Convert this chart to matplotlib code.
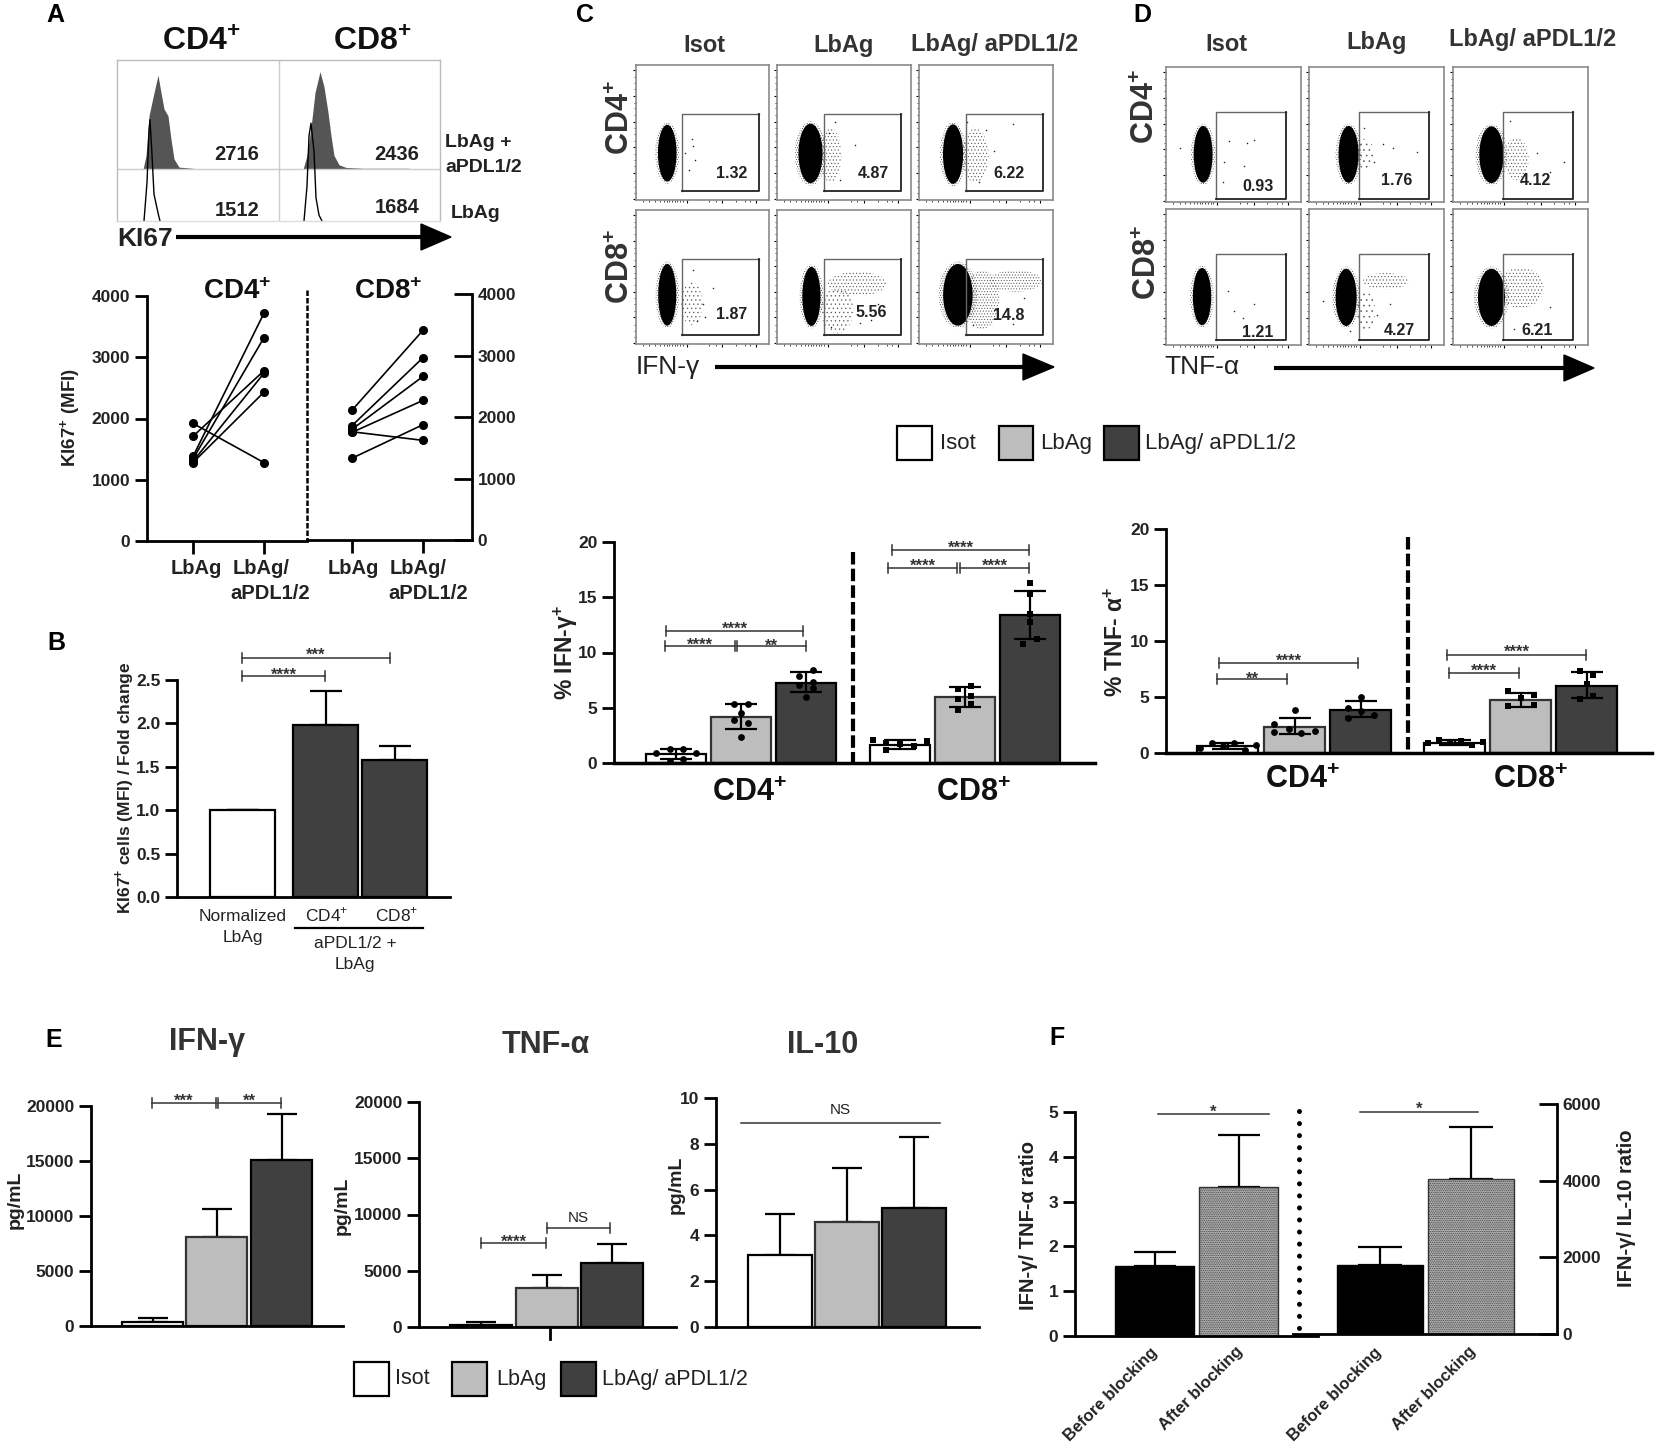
import matplotlib
matplotlib.use('Agg')
import matplotlib.pyplot as plt
from matplotlib.patches import Ellipse, Polygon, Rectangle

plt.rcParams['font.family'] = ['Liberation Sans', 'DejaVu Sans']
plt.rcParams['mathtext.fontset'] = 'custom'
plt.rcParams['mathtext.rm'] = 'Liberation Sans'
plt.rcParams['mathtext.bf'] = 'Liberation Sans:bold'
plt.rcParams['hatch.linewidth'] = 0.4

W, H = 1657, 1450
WHITE, GRAY, DARK = 'white', '#bdbdbd', '#404040'
TXT = '#222222'
PLUS = r'$^{\mathbf{+}}$'

# --- panel A histograms (x: channel, height above the lane baseline)
hist_fill_cd4_x = [26, 29, 32, 36, 41, 44, 47, 51, 54, 57, 62, 79, 129]
hist_fill_cd4_y = [0, 12, 46, 62, 81, 66, 52, 46, 26, 9, 2, 0.7, 0.7]
hist_fill_cd8_x = [186, 190, 194, 198, 203, 207, 211, 214, 217, 222, 229, 246, 292]
hist_fill_cd8_y = [0, 12, 36, 66, 84, 71, 49, 29, 12, 4, 1.7, 1, 1]
hist_line_cd4_x = [27, 30, 32, 33, 35, 37, 41, 43]
hist_line_cd4_y = [0, 33, 77, 87, 57, 23, 7, 0]
hist_line_cd8_x = [187, 190, 192, 194, 197, 199, 202, 205]
hist_line_cd8_y = [0, 30, 73, 84, 60, 20, 5, 0]

# --- panel A paired values
pair_cd4_before = [1920, 1710, 1380, 1340, 1300, 1280]
pair_cd4_after = [1280, 2780, 3720, 3320, 2740, 2430]
pair_cd8_before = [2110, 1860, 1800, 1750, 1760, 1330]
pair_cd8_after = [3410, 2965, 2660, 2270, 1620, 1875]

# --- panel B
fold_vals = [1.0, 1.98, 1.58]
fold_tops = [1.0, 2.37, 1.74]

# --- panel C bars
ifn_vals = [0.8, 4.15, 7.25, 1.65, 5.95, 13.35]
ifn_tops = [1.25, 5.3, 8.2, 2.05, 6.85, 15.6]
ifn_bots = [0.4, 3.05, 6.4, 1.3, 5.1, 11.2]
ifn_off = [[-20, -6, 7, 20, -6, 7], [-6.5, 7, 0, -6.5, 7, 0], [7, -6.5, 7, -6.5, 7, 0],
           [-27, -13.5, 0, 14, 27.5, -13.5], [6.5, -6.5, 6.5, -6.5, 6.5, -6.5], [0, 0, 0, 0, 6.5, -7]]
ifn_pts = [[0.9, 1.25, 1.25, 0.9, 0.2, 0.4], [5.3, 5.3, 4.55, 3.9, 3.65, 2.35],
           [8.45, 7.9, 7.3, 7.05, 6.75, 5.95], [2.05, 1.85, 1.75, 1.55, 1.95, 1.2],
           [7, 6.7, 6.1, 5.8, 5.3, 4.8], [16.3, 15.3, 13.5, 12.8, 11.2, 10.8]]

# --- panel D bars
tnf_vals = [0.6, 2.35, 3.8, 0.9, 4.7, 6.0]
tnf_tops = [0.9, 3.15, 4.6, 1.15, 5.4, 7.25]
tnf_bots = [0.4, 1.7, 3.2, 0.75, 4.15, 4.95]
tnf_off = [[-28, -16, -5, 6, 17, 28], [0, -21, -21, -6, 6, 20], [0, -13, 0, -13, 13],
           [-27, -16, -5, 6, 17, 28], [-13, 0, 13, -13, 13], [-6.5, 6.5, 0, 6.5, -6.5]]
tnf_pts = [[0.45, 0.85, 0.65, 0.85, 0.3, 0.75], [3.8, 2.6, 1.9, 2.15, 1.8, 2.0], [5, 4.0, 3.75, 3.15, 3.4],
           [0.85, 1.2, 0.95, 1.1, 0.75, 0.95], [5.5, 4.9, 5.2, 4.2, 4.3], [7.3, 7, 6.2, 5.1, 4.85]]

# --- panel E
e_ifn_vals = [400, 8100, 15100]
e_ifn_tops = [700, 10600, 19300]
e_tnf_vals = [200, 3500, 5650]
e_tnf_tops = [450, 4600, 7350]
e_il10_vals = [3.15, 4.6, 5.2]
e_il10_tops = [4.93, 6.93, 8.3]

# --- panel F
f_tnf_vals = [1.57, 3.33]
f_tnf_tops = [1.88, 4.48]
f_il10_vals = [1800, 4050]
f_il10_tops = [2280, 5390]
f_labels = ['Before blocking', 'After blocking']

# --- flow plots: gated percentages, cloud (cx, cy, rx, ry), loose clouds and single events
pct_c = [['1.32', '4.87', '6.22'], ['1.87', '5.56', '14.8']]
pct_d = [['0.93', '1.76', '4.12'], ['1.21', '4.27', '6.21']]
cloud_c = [[(.235, .347, .07, .21), (.25, .345, .09, .22), (.254, .34, .075, .22)],
           [(.235, .367, .068, .23), (.257, .355, .068, .22), (.29, .367, .11, .23)]]
cloud_d = [[(.275, .353, .07, .21), (.293, .353, .074, .21), (.285, .35, .09, .21)],
           [(.267, .356, .068, .21), (.275, .35, .078, .21), (.285, .35, .1, .21)]]
loose_c = [[[], [(.4, .33, .08, .2, '.....')], [(.42, .33, .1, .2, '.....')]],
           [[(.42, .3, .08, .16, '....')], [(.6, .45, .22, .09, '.....'), (.45, .25, .12, .17, '....')],
            [(.47, .33, .13, .22, '......'), (.72, .47, .2, .08, '......')]]]
loose_d = [[[], [(.42, .35, .06, .12, '...')], [(.47, .32, .09, .16, '.....')]],
           [[], [(.57, .47, .17, .06, '.....'), (.42, .25, .07, .14, '...')], [(.5, .42, .17, .15, '.....')]]]
events_c = [[[(.42, .45), (.43, .4), (.44, .3), (.4, .22), (.37, .35)],
             [(.43, .58), (.58, .41), (.47, .15), (.39, .5)],
             [(.36, .58), (.5, .52), (.7, .56), (.56, .36), (.6, .25), (.45, .13)]],
            [[(.43, .55), (.58, .42), (.5, .3), (.52, .2), (.46, .17)],
             [(.4, .13), (.75, .3), (.7, .18), (.62, .16)],
             [(.4, .14), (.78, .34), (.62, .2), (.7, .15)]]]
events_d = [[[(.47, .45), (.6, .44), (.65, .46), (.43, .3), (.58, .27), (.1, .4), (.42, .15)],
             [(.41, .55), (.55, .43), (.62, .4), (.8, .37), (.48, .3), (.25, .25)],
             [(.42, .6), (.62, .36), (.82, .3), (.72, .22), (.5, .15)]],
            [[(.46, .4), (.5, .25), (.57, .2), (.65, .3)],
             [(.1, .32), (.5, .22), (.6, .3), (.3, .1)],
             [(.6, .15), (.72, .28), (.45, .12)]]]

fig = plt.figure(figsize=(W / 100, H / 100), dpi=100, facecolor='white')
ov = fig.add_axes([0, 0, 1, 1], zorder=20)
ov.set_xlim(0, W)
ov.set_ylim(H, 0)
ov.set_axis_off()
ov.patch.set_alpha(0)


def make_ax(x0, x1, top, bot, ymax=None, yticks=None, side='left'):
    """Axes placed by pixel box, x data in pixels."""
    ax = fig.add_axes([x0 / W, 1 - bot / H, (x1 - x0) / W, (bot - top) / H])
    ax.patch.set_alpha(0)
    ax.set_xlim(x0, x1)
    for s in ax.spines.values():
        s.set_linewidth(2)
    ax.spines['top'].set_visible(False)
    ax.spines['left' if side == 'right' else 'right'].set_visible(False)
    if ymax is not None:
        ax.set_ylim(0, ymax)
        ax.set_yticks(yticks)
    ax.set_xticks([])
    if side == 'right':
        ax.yaxis.tick_right()
        ax.tick_params(axis='y', direction='in', width=2, length=13, labelsize=12.5, pad=4, labelcolor=TXT)
    else:
        ax.tick_params(axis='y', direction='out', width=2, length=9, labelsize=12.5, pad=3, labelcolor=TXT)
    for t in ax.get_yticklabels():
        t.set_fontweight('bold')
    return ax


def txt(x, y, s, size, weight='bold', ha='center', va='center', rot=0, color=TXT):
    ov.text(x, y, s, fontsize=size, fontweight=weight, ha=ha, va=va, rotation=rot, color=color,
            rotation_mode='anchor' if rot not in (0, 90) else 'default')


def bracket(x0, x1, y, label, ty, ends=True):
    ov.plot([x0, x1], [y, y], color='#333333', lw=1.1)
    if ends:
        for x in (x0, x1):
            ov.plot([x, x], [y - 5, y + 5], color='#333333', lw=1.1)
    if label == 'NS':
        txt((x0 + x1) / 2, ty, label, 11, weight='normal')
    else:
        txt((x0 + x1) / 2, ty + 10, label, 12, va='baseline', color='#333333')


def arrow(x0, x1, tip, y, half):
    ov.plot([x0, x1], [y, y], color='black', lw=3, solid_capstyle='butt')
    ov.add_patch(Polygon([(x1, y - half), (tip, y), (x1, y + half)], closed=True, color='black'))


def legend(items, y, size, hh=17):
    for (x0, x1, color, tx, label) in items:
        ov.add_patch(Rectangle((x0, y - hh), x1 - x0, 2 * hh, facecolor=color, edgecolor='black', lw=1.6))
        txt(tx, y, label, size, weight='normal', ha='left')


def bars(ax, xs, vals, tops, colors, width, cap, bots=None):
    edges = ['black' if c != GRAY else '#333333' for c in colors]
    ax.bar(xs, vals, width=width, color=colors, edgecolor=edges, linewidth=1.6, zorder=2)
    for x, v, t, i in zip(xs, vals, tops, range(len(xs))):
        low = v if bots is None else bots[i]
        # upper-only bars sit behind the bar so the lower cap does not show
        ax.errorbar(x, v, yerr=[[v - low], [t - v]], color='black', elinewidth=1.6, capsize=cap,
                    capthick=1.6, zorder=1 if bots is None else 3)


def flow_panel(x0, x1, top, bot, gate, cloud, loose, events, pct, pct_xy):
    ax = fig.add_axes([x0 / W, 1 - bot / H, (x1 - x0) / W, (bot - top) / H])
    ax.set_xlim(0, 1)
    ax.set_ylim(0, 1)
    for s in ax.spines.values():
        s.set_color('#8a8a8a')
        s.set_linewidth(1.2)
    ax.set_xticks([.38, .65, .9])
    ax.set_xticks([.05, .1, .14, .18, .21, .23, .25, .27, .29, .31, .33, .35, .55, .6, .75, .82, .86], minor=True)
    ax.set_yticks([.01, .2, .39, .58, .77, .96])
    ax.set_yticks([.05, .1, .14, .25, .3, .34, .44, .49, .53, .63, .68, .72, .82, .87, .91], minor=True)
    ax.tick_params(which='major', length=2.5, width=0.8, labelbottom=False, labelleft=False)
    ax.tick_params(which='minor', length=1.2, width=0.5)
    cx, cy, rx, ry = cloud
    for (lx, ly, lrx, lry, h) in loose:
        ax.add_patch(Ellipse((lx, ly), 2 * lrx, 2 * lry, facecolor='none', edgecolor='#555555', lw=0, hatch=h))
    ax.add_patch(Ellipse((cx, cy), 2.6 * rx, 2.16 * ry, facecolor='none', edgecolor='#444444', lw=0, hatch='.......'))
    ax.add_patch(Ellipse((cx, cy), 2 * rx, 2 * ry, color='black', lw=0))
    ax.scatter([e[0] for e in events], [e[1] for e in events], s=1.2, color='#222222', lw=0)
    gx0, gx1, gy0, gy1 = gate
    ax.plot([gx0, gx0, gx1], [gy0, gy1, gy1], color='#666666', lw=1)
    ax.plot([gx0, gx1, gx1], [gy0, gy0, gy1], color='#222222', lw=1.3)
    ax.text(pct_xy[0], pct_xy[1], pct, fontsize=11.5, fontweight='bold', color=TXT, ha='center', va='center',
            transform=ax.transAxes)


# panel letters
for (x, y, s) in [(55, 15, 'A'), (56, 643, 'B'), (585, 15, 'C'), (1142, 15, 'D'), (54, 1040, 'E'), (1057, 1038, 'F')]:
    txt(x, y, s, 18, color='black')

# ---------- A histograms
ax = fig.add_axes([117 / W, 1 - 221 / H, 323 / W, 161 / H])
ax.set_xlim(0, 323)
ax.set_ylim(0, 138.3)
ax.set_xticks([])
ax.set_yticks([])
for s in ax.spines.values():
    s.set_color('#bbbbbb')
    s.set_linewidth(1)
ax.spines['bottom'].set_color('#dddddd')
lane = 44.3
ax.axvline(162, color='#cccccc', lw=1)
ax.fill_between(hist_fill_cd4_x, lane, [lane + v for v in hist_fill_cd4_y], color='#555555', lw=0)
ax.fill_between(hist_fill_cd8_x, lane, [lane + v for v in hist_fill_cd8_y], color='#555555', lw=0)
ax.axhline(lane, color='#cccccc', lw=1)
ax.plot(hist_line_cd4_x, hist_line_cd4_y, color='black', lw=1)
ax.plot(hist_line_cd8_x, hist_line_cd8_y, color='black', lw=1)
txt(201, 43, 'CD4' + PLUS, 23, color='#111111')
txt(372, 43, 'CD8' + PLUS, 23, color='#111111')
for (x, y, s) in [(237, 154, '2716'), (237, 210, '1512'), (397, 154, '2436'), (397, 207, '1684')]:
    txt(x, y, s, 14.5)
txt(445, 142, 'LbAg +', 14, ha='left')
txt(445, 167, 'aPDL1/2', 14, ha='left')
txt(451, 213, 'LbAg', 14, ha='left')
txt(117, 239, 'KI67', 19, ha='left')
arrow(176, 421, 451, 237, 13)

# ---------- A paired plots
ax = make_ax(147, 307, 296, 541, 4000, [0, 1000, 2000, 3000, 4000])
ax.set_xlim(-0.648, 1.606)
ax2 = make_ax(307, 472, 294, 540, 4000, [0, 1000, 2000, 3000, 4000], side='right')
ax2.set_xlim(-0.634, 1.69)
for a, before, after in [(ax, pair_cd4_before, pair_cd4_after), (ax2, pair_cd8_before, pair_cd8_after)]:
    for b, c in zip(before, after):
        a.plot([0, 1], [b, c], color='black', lw=1.2, marker='o', ms=5.5, clip_on=False)
    a.set_xticks([0, 1])
    a.set_xticklabels(['', ''])
    a.tick_params(axis='x', width=2, length=9)
for (x, y, s) in [(196, 568, 'LbAg'), (261, 568, 'LbAg/'), (270, 593, 'aPDL1/2'),
                  (353, 568, 'LbAg'), (418, 568, 'LbAg/'), (428, 593, 'aPDL1/2')]:
    txt(x, y, s, 14.5)
txt(237, 292, 'CD4' + PLUS, 20, color='#111111')
txt(388, 292, 'CD8' + PLUS, 20, color='#111111')
txt(71, 418, 'KI67' + PLUS + ' (MFI)', 13.5, rot=90)
ov.plot([307, 307], [290, 541], color='black', lw=1.8, ls=(0, (2.2, 0.8)))

# ---------- B
ax = make_ax(177, 450, 680, 897, 2.5, [0, 0.5, 1, 1.5, 2, 2.5])
ax.set_yticklabels(['0.0', '0.5', '1.0', '1.5', '2.0', '2.5'], fontweight='bold')
bars(ax, [242.5, 325.5, 394.5], fold_vals, fold_tops, [WHITE, DARK, DARK], 65, 11.5)
bracket(242, 390, 658, '***', 650)
bracket(242, 325, 676, '****', 670)
txt(243, 916, 'Normalized', 12.5, weight='normal')
txt(243, 937, 'LbAg', 12.5, weight='normal')
txt(327, 915, 'CD4' + r'$^{+}$', 12.5, weight='normal')
txt(397, 915, 'CD8' + r'$^{+}$', 12.5, weight='normal')
ov.plot([295, 423], [928, 928], color='black', lw=1.6)
txt(355, 943, 'aPDL1/2 +', 12.5, weight='normal')
txt(355, 964, 'LbAg', 12.5, weight='normal')
txt(125, 788, 'KI67' + PLUS + ' cells (MFI) / Fold change', 12.5, rot=90)

# ---------- C and D flow
gate_c = [(.348, .925, .07, .635), (.348, .925, .07, .635)]
gate_d = [(.369, .89, .025, .667), (.369, .89, .04, .67)]
c_cols = [(636, 769), (777, 911), (919, 1053)]
c_rows = [(65, 200), (210, 344)]
d_cols = [(1166, 1301), (1309, 1444), (1453, 1588)]
d_rows = [(67, 202), (209, 345)]
pct_xy_c = [[(.72, .2), (.72, .2), (.67, .2)], [(.72, .22), (.70, .235), (.67, .215)]]
pct_xy_d = [[(.68, .118), (.653, .16), (.61, .16)], [(.68, .09), (.667, .11), (.624, .11)]]
for r in range(2):
    for c in range(3):
        flow_panel(*c_cols[c], *c_rows[r], gate_c[r], cloud_c[r][c], loose_c[r][c], events_c[r][c],
                   pct_c[r][c], pct_xy_c[r][c])
        flow_panel(*d_cols[c], *d_rows[r], gate_d[r], cloud_d[r][c], loose_d[r][c], events_d[r][c],
                   pct_d[r][c], pct_xy_d[r][c])
for (x, y, s) in [(704, 45, 'Isot'), (844, 45, 'LbAg'), (995, 44, 'LbAg/ aPDL1/2'),
                  (1226, 44, 'Isot'), (1377, 42, 'LbAg'), (1533, 39, 'LbAg/ aPDL1/2')]:
    txt(x, y, s, 17, color='#333333')
txt(621, 118, 'CD4' + PLUS, 22, rot=90, color='#333333')
txt(621, 267, 'CD8' + PLUS, 22, rot=90, color='#333333')
txt(1146, 107, 'CD4' + PLUS, 22, rot=90, color='#333333')
txt(1148, 263, 'CD8' + PLUS, 22, rot=90, color='#333333')
txt(636, 367, 'IFN-\u03b3', 19, weight='normal', ha='left')
arrow(715, 1023, 1054, 367, 13)
txt(1164, 367, 'TNF-\u03b1', 19, weight='normal', ha='left')
arrow(1274, 1564, 1594, 368, 13)
legend([(897, 932, WHITE, 940, 'Isot'), (999, 1033, GRAY, 1040, 'LbAg'), (1104, 1139, DARK, 1145, 'LbAg/ aPDL1/2')], 443, 16)

# ---------- C bars
bar_colors = [WHITE, GRAY, DARK, WHITE, GRAY, DARK]
ax = make_ax(614, 1095, 542, 763, 20, [0, 5, 10, 15, 20])
xs = [676, 741, 806, 900, 965, 1030]
bars(ax, xs, ifn_vals, ifn_tops, bar_colors, 60, 11.5, bots=ifn_bots)
for i, (off, pts) in enumerate(zip(ifn_off, ifn_pts)):
    ax.scatter([xs[i] + o for o in off], pts, s=24, color='black', marker='o' if i < 3 else 's', lw=0,
               zorder=4, clip_on=False)
ax.spines['bottom'].set_linewidth(2.5)
ov.plot([853, 853], [552, 763], color='black', lw=3, ls=(0, (3, 1)))
for (x0, x1, y, s, ty) in [(666, 803, 631, '****', 624), (665, 735, 646, '****', 640), (737, 806, 646, '**', 641),
                           (892, 1029, 550, '****', 543), (888, 957, 568, '****', 561), (960, 1029, 568, '****', 561)]:
    bracket(x0, x1, y, s, ty)
txt(749, 793, 'CD4' + PLUS, 22, color='#111111')
txt(973, 793, 'CD8' + PLUS, 22, color='#111111')
txt(566, 653, '% IFN-\u03b3' + PLUS, 16.5, rot=90)

# ---------- D bars
ax = make_ax(1166, 1652, 529, 753, 20, [0, 5, 10, 15, 20])
xs = [1228, 1295, 1361, 1455, 1521, 1587]
bars(ax, xs, tnf_vals, tnf_tops, bar_colors, 61, 11.5, bots=tnf_bots)
for i, (off, pts) in enumerate(zip(tnf_off, tnf_pts)):
    ax.scatter([xs[i] + o for o in off], pts, s=24, color='black', marker='o' if i < 3 else 's', lw=0,
               zorder=4, clip_on=False)
ax.spines['bottom'].set_linewidth(2.5)
ov.plot([1408, 1408], [537, 753], color='black', lw=3, ls=(0, (3, 1)))
for (x0, x1, y, s, ty) in [(1219, 1358, 663, '****', 656), (1217, 1287, 679, '**', 674),
                           (1447, 1586, 655, '****', 647), (1449, 1519, 673, '****', 666)]:
    bracket(x0, x1, y, s, ty)
txt(1302, 780, 'CD4' + PLUS, 22, color='#111111')
txt(1530, 780, 'CD8' + PLUS, 22, color='#111111')
txt(1116, 642, '% TNF- \u03b1' + PLUS, 16.5, rot=90)

# ---------- E
e_colors = [WHITE, GRAY, DARK]
ax = make_ax(91, 343, 1106, 1326, 20000, [0, 5000, 10000, 15000, 20000])
bars(ax, [152.5, 216.5, 281.5], e_ifn_vals, e_ifn_tops, e_colors, 61, 11)
ax = make_ax(419, 676, 1102, 1327, 20000, [0, 5000, 10000, 15000, 20000])
bars(ax, [481, 546.5, 612], e_tnf_vals, e_tnf_tops, e_colors, 62, 11)
ov.plot([550, 550], [1327, 1339], color='black', lw=2)
ax = make_ax(716, 979, 1098, 1327, 10, [0, 2, 4, 6, 8, 10])
bars(ax, [780, 847.5, 914.5], e_il10_vals, e_il10_tops, e_colors, 64, 11)
txt(207, 1042, 'IFN-\u03b3', 22, color='#333333')
txt(546, 1045, 'TNF-\u03b1', 22, color='#333333')
txt(823, 1045, 'IL-10', 22, color='#333333')
txt(15, 1200, 'pg/mL', 14, rot=90)
txt(342, 1206, 'pg/mL', 14, rot=90)
txt(676, 1185, 'pg/mL', 14, rot=90)
bracket(152, 216, 1103, '***', 1096)
bracket(218, 281, 1103, '**', 1096)
bracket(481, 546, 1243, '****', 1237)
bracket(547, 610, 1228, 'NS', 1218)
bracket(741, 940, 1123, 'NS', 1110, ends=False)
legend([(354, 389, WHITE, 395, 'Isot'), (452, 487, GRAY, 496, 'LbAg'), (561, 596, DARK, 602, 'LbAg/ aPDL1/2')], 1379, 15.5)

# ---------- F
hatch_gray = '#a8a8a8'
ax = make_ax(1075, 1318, 1112, 1336, 5, [0, 1, 2, 3, 4, 5])
ax.bar([1154.5], f_tnf_vals[0], width=79, color='black', edgecolor='black', zorder=2)
ax.bar([1238.5], f_tnf_vals[1], width=79, color=hatch_gray, edgecolor='#333333', hatch='.........', lw=1, zorder=2)
for x, v, t in zip([1154.5, 1238.5], f_tnf_vals, f_tnf_tops):
    ax.errorbar(x, v, yerr=[[0], [t - v]], color='black', elinewidth=1.6, capsize=15, capthick=1.6, zorder=1)
ax2 = make_ax(1293, 1557, 1104, 1334, 6000, [0, 2000, 4000, 6000], side='right')
ax2.bar([1380], f_il10_vals[0], width=86, color='black', edgecolor='black', zorder=2)
ax2.bar([1471], f_il10_vals[1], width=86, color=hatch_gray, edgecolor='#333333', hatch='.........', lw=1, zorder=2)
for x, v, t in zip([1380, 1471], f_il10_vals, f_il10_tops):
    ax2.errorbar(x, v, yerr=[[0], [t - v]], color='black', elinewidth=1.6, capsize=16, capthick=1.6, zorder=1)
ov.plot([1299, 1299], [1111, 1334], color='black', lw=3.6, ls=(0, (0.01, 2.4)), dash_capstyle='round')
bracket(1158, 1269, 1114, '*', 1107, ends=False)
bracket(1360, 1478, 1112, '*', 1104, ends=False)
for (x, y, s) in [(1150, 1345, f_labels[0]), (1235, 1344, f_labels[1]), (1374, 1345, f_labels[0]), (1468, 1344, f_labels[1])]:
    txt(x, y, s, 12, ha='right', va='top', rot=45)
txt(1028, 1225, 'IFN-\u03b3/ TNF-\u03b1 ratio', 14.5, rot=90)
txt(1627, 1208, 'IFN-\u03b3/ IL-10 ratio', 14.5, rot=90)

fig.savefig('out.png', dpi=100)
